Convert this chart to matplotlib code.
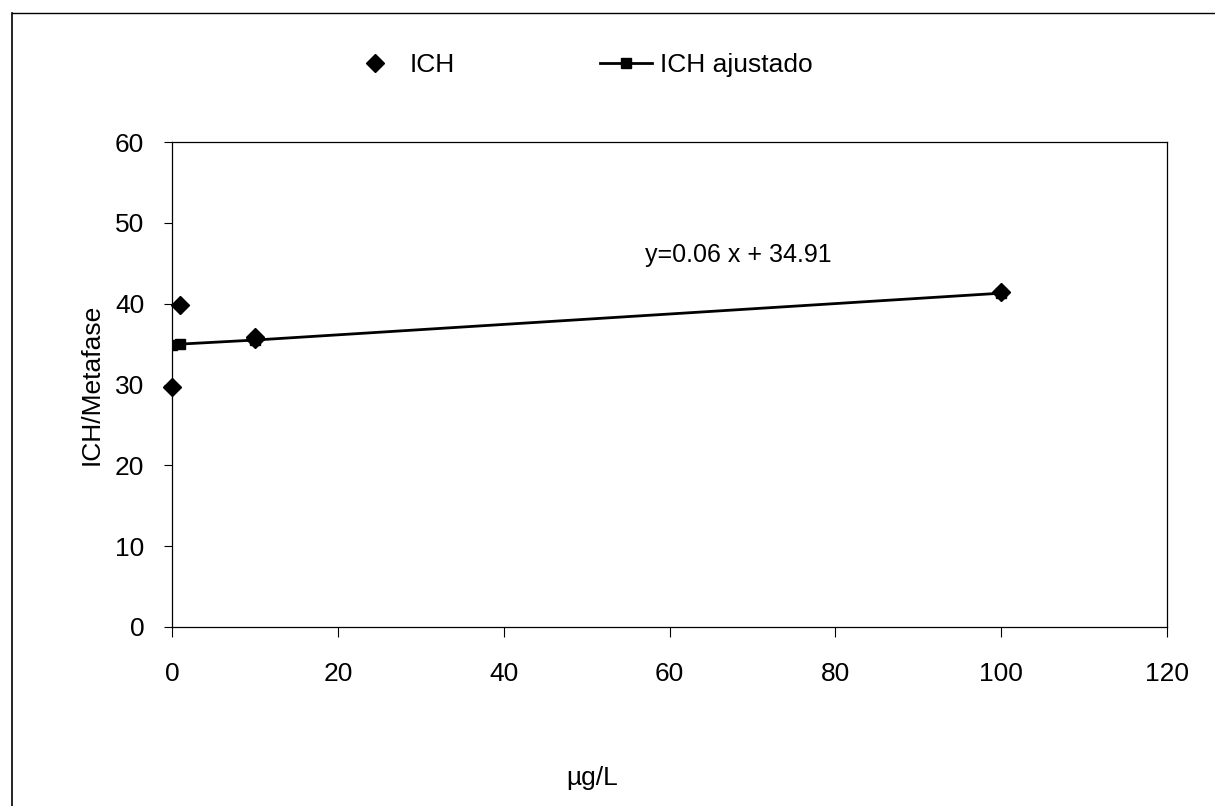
import matplotlib

matplotlib.use("Agg")
import matplotlib.lines as mlines
import matplotlib.pyplot as plt


# Observed values (diamonds) and the adjusted series (line with squares)
ICH_X = [0, 1, 10, 10, 100]
ICH_Y = [29.7, 39.8, 35.9, 35.6, 41.5]
FIT_X = [0, 1, 10, 100]
FIT_Y = [34.9, 35.0, 35.5, 41.3]
EQUATION = "y=0.06 x + 34.91"

X_TICKS = [0, 20, 40, 60, 80, 100, 120]
Y_TICKS = [0, 10, 20, 30, 40, 50, 60]


def main():
    plt.rcParams["font.family"] = ["Liberation Sans", "DejaVu Sans"]
    fig = plt.figure(figsize=(12.15, 8.06), dpi=100)
    fig.patch.set_facecolor("white")
    ax = fig.add_axes([0.1416, 0.2221, 0.8189, 0.6017])

    ax.plot(
        FIT_X,
        FIT_Y,
        color="black",
        linewidth=2.0,
        marker="s",
        markersize=6.5,
        label="ICH ajustado",
        zorder=3,
    )
    ax.plot(
        ICH_X,
        ICH_Y,
        linestyle="none",
        color="black",
        marker="D",
        markersize=9.5,
        label="ICH",
        zorder=4,
        clip_on=False,
    )

    ax.text(57, 46, EQUATION, fontsize=18, va="center", ha="left")

    ax.set_xlim(0, 120)
    ax.set_ylim(0, 60)
    ax.set_xticks(X_TICKS)
    ax.set_yticks(Y_TICKS)
    ax.tick_params(axis="x", direction="out", length=7, width=0.8, pad=18, labelsize=19)
    ax.tick_params(axis="y", direction="out", length=6, width=0.8, pad=14, labelsize=19)
    for spine in ax.spines.values():
        spine.set_color("black")
        spine.set_linewidth(0.9)

    ax.set_ylabel("ICH/Metafase", fontsize=19, labelpad=8)
    fig.text(592 / 1215, 1 - 778 / 806, "µg/L", fontsize=19, ha="center", va="center")

    handles, labels = ax.get_legend_handles_labels()
    order = [1, 0]
    fig.legend(
        [handles[i] for i in order],
        [labels[i] for i in order],
        loc="center",
        bbox_to_anchor=(0.478, 0.919),
        ncol=2,
        frameon=False,
        fontsize=19,
        handlelength=2.0,
        handletextpad=0.3,
        columnspacing=5.5,
    )

    # outer chart frame (only top and left edges fall inside the picture)
    fig.add_artist(
        mlines.Line2D([0.0099, 1.0], [0.984, 0.984], transform=fig.transFigure, color="black", linewidth=1.0)
    )
    fig.add_artist(
        mlines.Line2D([0.0099, 0.0099], [0.0, 0.984], transform=fig.transFigure, color="black", linewidth=1.2)
    )

    fig.savefig("out.png", dpi=100, facecolor="white")


if __name__ == "__main__":
    main()
